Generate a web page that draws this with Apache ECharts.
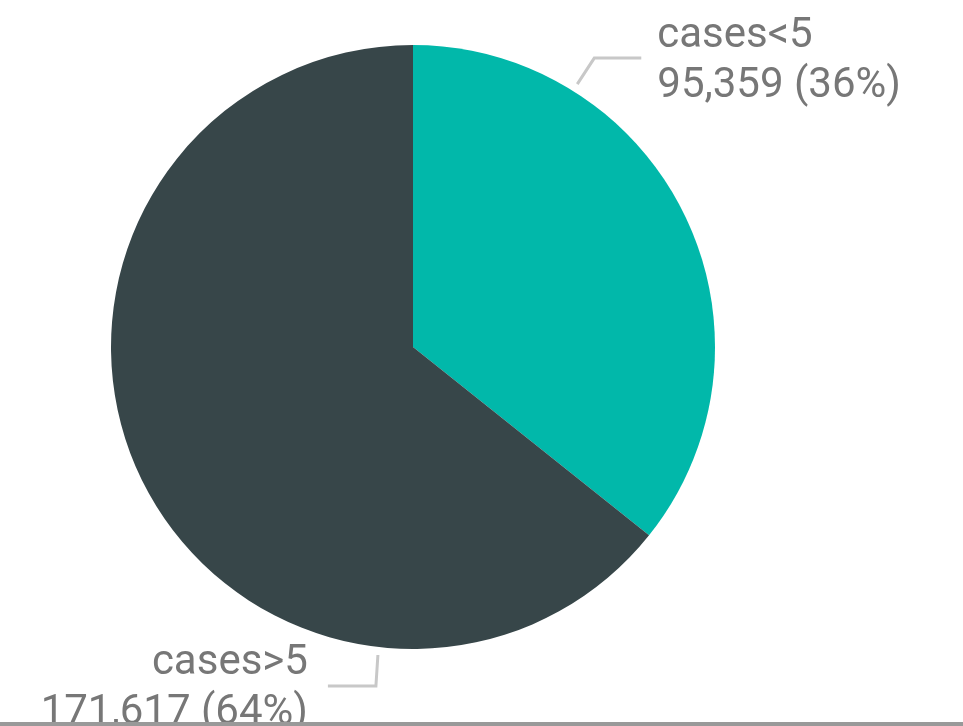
<!DOCTYPE html>
<html>
<head>
<meta charset="utf-8">
<script src="https://cdn.jsdelivr.net/npm/echarts@6/dist/echarts.min.js"></script>
<style>
  html, body { margin: 0; padding: 0; background: #fff; }
  #main { width: 963px; height: 726px; }
</style>
</head>
<body>
<div id="main"></div>
<script>
const names = ['cases<5', 'cases>5'];
const values = [95359, 171617];
const colors = ['#01B8AA', '#374649'];

const cx = 413, cy = 347, r = 302;

// label placement: angle (deg clockwise from top) where the leader starts
const labelAngles = [32, 186.5];

function polar(angle, rad) {
  const a = angle * Math.PI / 180;
  return [cx + rad * Math.sin(a), cy - rad * Math.cos(a)];
}

let chartDom = document.getElementById('main');
let myChart = echarts.init(chartDom);

let option = {
  animation: false,
  graphic: [{
    type: 'rect',
    z: 100,
    shape: { x: 0, y: 722, width: 963, height: 4 },
    style: { fill: '#999999' }
  }],
  series: [{
    type: 'pie',
    center: [cx, cy],
    radius: [0, r],
    startAngle: 90,
    clockwise: true,
    data: names.map((n, i) => ({
      name: n,
      value: values[i],
      itemStyle: { color: colors[i] }
    })),
    label: {
      show: true,
      color: '#777777',
      fontFamily: 'Roboto',
      fontSize: 42,
      lineHeight: 50,
      overflow: 'none',
      formatter: function (p) {
        return p.name + '\n' + p.value.toLocaleString('en-US') + ' (' + Math.round(p.percent) + '%)';
      }
    },
    labelLine: {
      show: true,
      lineStyle: { color: '#C8C8C8', width: 3 }
    },
    labelLayout: function (params) {
      const i = params.dataIndex;
      const p0 = polar(labelAngles[i], r + 8);
      if (i === 0) {
        const p1 = [p0[0] + 17, p0[1] - 26];
        const p2 = [p1[0] + 47, p1[1]];
        return {
          x: p2[0] + 16, y: p2[1] + 3,
          align: 'left', verticalAlign: 'middle',
          labelLinePoints: [p0, p1, p2]
        };
      }
      const p1 = [p0[0] - 2, p0[1] + 31];
      const p2 = [p1[0] - 48, p1[1]];
      return {
        x: p2[0] - 20, y: p2[1] + 2,
        align: 'right', verticalAlign: 'middle',
        labelLinePoints: [p0, p1, p2]
      };
    }
  }]
};
option && myChart.setOption(option);
</script>
</body>
</html>
